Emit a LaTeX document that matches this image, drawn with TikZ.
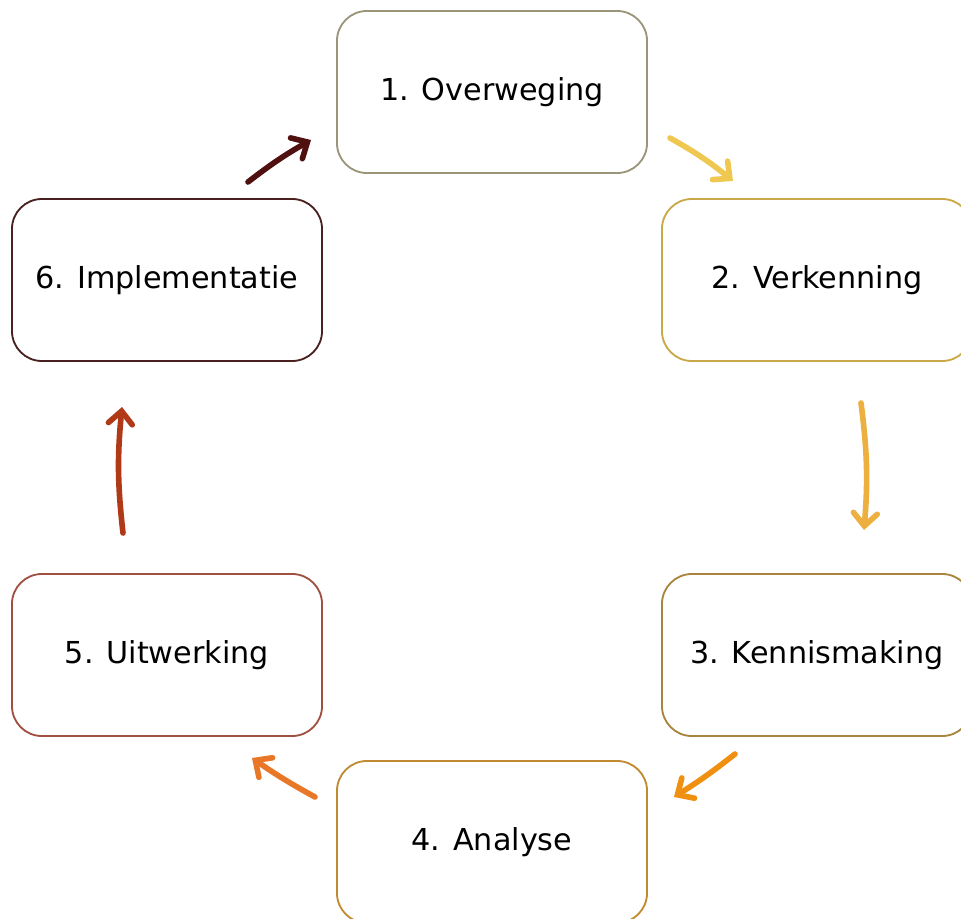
\documentclass[tikz,border=0pt]{standalone}
\usepackage{fontspec}
\setsansfont{DejaVu Sans}
\usetikzlibrary{arrows.meta}

\definecolor{c1}{HTML}{9A9578}
\definecolor{c2}{HTML}{C9A848}
\definecolor{c3}{HTML}{A8843C}
\definecolor{c4}{HTML}{C08A30}
\definecolor{c5}{HTML}{A05040}
\definecolor{c6}{HTML}{4A2020}
\definecolor{a1}{HTML}{EEC850}
\definecolor{a2}{HTML}{EDB040}
\definecolor{a3}{HTML}{F09010}
\definecolor{a4}{HTML}{E87828}
\definecolor{a5}{HTML}{B03A18}
\definecolor{a6}{HTML}{501010}

\begin{document}
\begin{tikzpicture}[
  x=0.025cm, y=-0.025cm,
  every node/.style={font=\sffamily\fontsize{21.5}{26}\selectfont},
  phase/.style={draw=#1, line width=1.3pt, fill=white, rounded corners=0.75cm,
    minimum width=7.75cm, minimum height=4.05cm, align=center, inner sep=0pt},
  arrow/.style={draw=#1, line width=4pt, line cap=round,
    -{Straight Barb[length=9pt, width=17pt, line cap=round]}}
]
\useasboundingbox (0,0) rectangle (961,919);

% Phases, clockwise
\node[phase=c1] (ovw)  at (492,92)  {1. Overweging};
\node[phase=c2] (verk) at (817,280) {2. Verkenning};
\node[phase=c3] (kenn) at (817,655) {3. Kennismaking};
\node[phase=c4] (ana)  at (492,842) {4. Analyse};
\node[phase=c5] (uitw) at (167,655) {5. Uitwerking};
\node[phase=c6] (impl) at (167,280) {6. Implementatie};

% Arrow ends
\coordinate (p1s) at (670,138); \coordinate (p1e) at (733,181);
\coordinate (p2s) at (861,403); \coordinate (p2e) at (864,530);
\coordinate (p3s) at (735,754); \coordinate (p3e) at (674,797);
\coordinate (p4s) at (315,797); \coordinate (p4e) at (252,758);
\coordinate (p5s) at (123,533); \coordinate (p5e) at (122,407);
\coordinate (p6s) at (248,182); \coordinate (p6e) at (311,140);

% Cycle arrows
\draw[arrow=a1] (p1s) to[bend left=5] (p1e);
\draw[arrow=a2] (p2s) to[bend left=6] (p2e);
\draw[arrow=a3] (p3s) to[bend left=3] (p3e);
\draw[arrow=a4] (p4s) to[bend left=3] (p4e);
\draw[arrow=a5] (p5s) to[bend left=6] (p5e);
\draw[arrow=a6] (p6s) to[bend left=4] (p6e);

\end{tikzpicture}
\end{document}
